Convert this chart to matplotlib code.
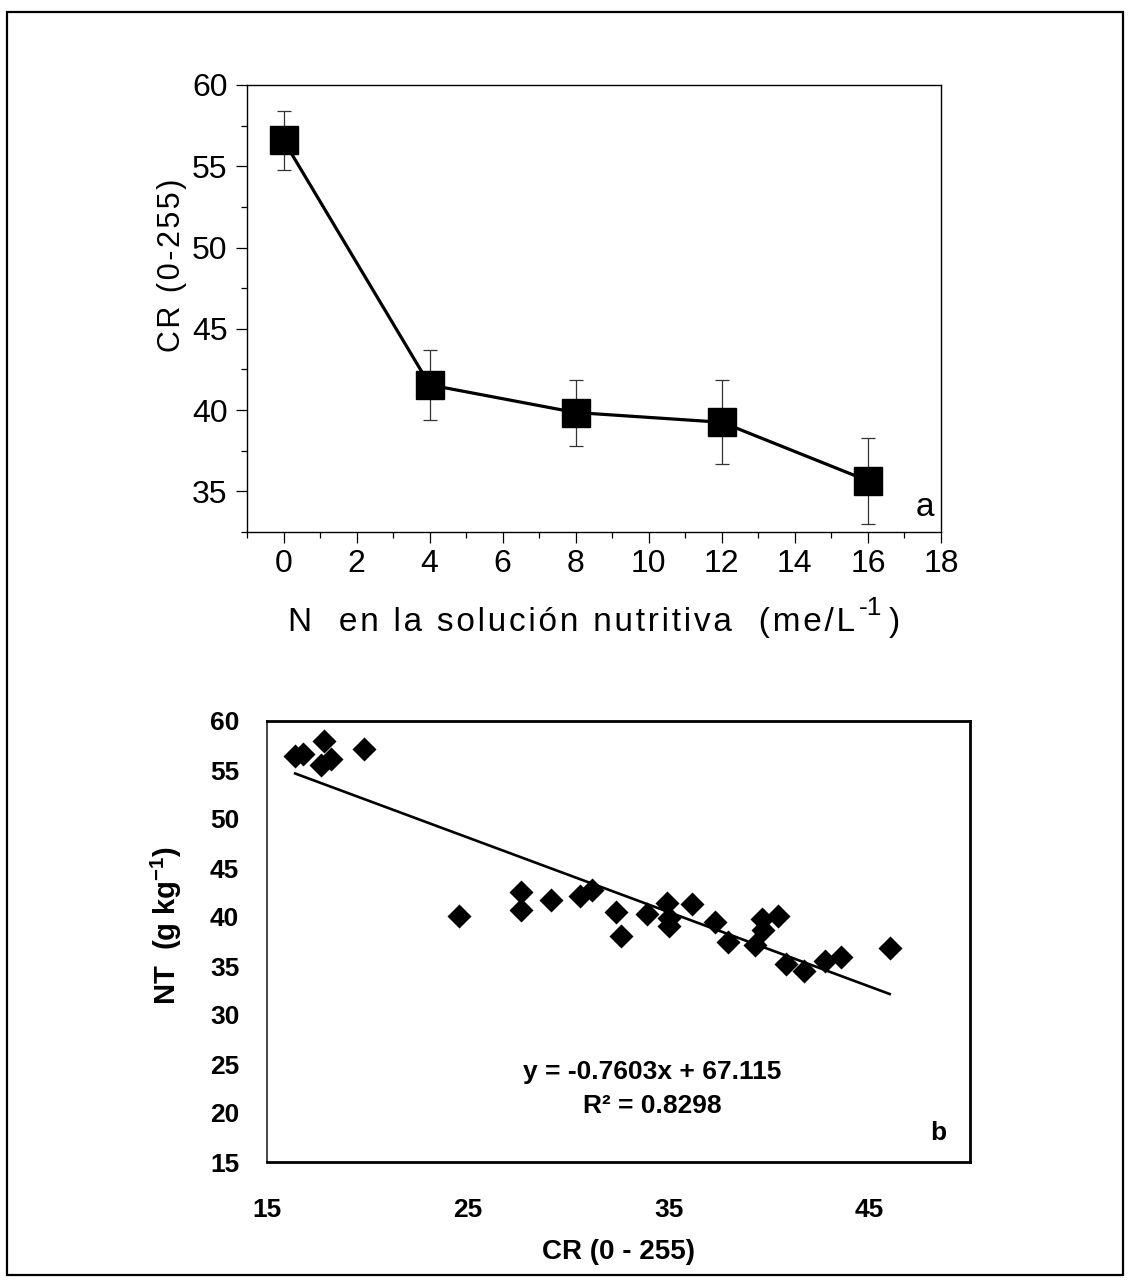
import matplotlib
matplotlib.use("Agg")
import matplotlib.pyplot as plt
import matplotlib.ticker as plticker
from matplotlib.patches import Rectangle

plt.rcParams["font.family"] = ["Liberation Sans", "DejaVu Sans"]
plt.rcParams["mathtext.default"] = "regular"

# panel a: CR vs N in nutrient solution
n_levels = [0, 4, 8, 12, 16]
cr_mean = [56.6, 41.55, 39.85, 39.25, 35.65]
cr_err = [1.83, 2.14, 2.03, 2.58, 2.63]

# panel b: NT vs CR scatter
cr_b = [16.4, 16.8, 17.85, 17.7, 18.2, 19.85,
        24.57, 27.65, 27.65, 29.12, 30.57, 31.2,
        32.38, 32.6, 33.9, 34.9, 35.0, 35.0,
        36.17, 37.3, 37.96, 39.32, 39.63, 39.7,
        40.46, 40.85, 41.75, 42.8, 43.57, 46.0]
nt_b = [56.4, 56.6, 58.0, 55.5, 56.1, 57.1,
        40.1, 42.6, 40.7, 41.7, 42.15, 42.8,
        40.5, 38.1, 40.3, 41.45, 39.9, 39.1,
        41.3, 39.45, 37.4, 37.1, 39.8, 38.65,
        40.1, 35.2, 34.5, 35.5, 35.9, 36.85]
slope = -0.7603
intercept = 67.115
b_yticks = [15, 20, 25, 30, 35, 40, 45, 50, 55, 60]
b_xticks = [15, 25, 35, 45]

W, H = 1130, 1284
fig = plt.figure(figsize=(W / 100, H / 100), dpi=100)


def fx(x):
    return x / W


def fy(y):
    return 1 - y / H


def spaced(s, gap="\u200a"):
    # the original label is letter-spaced
    return gap.join(s)


# outer frame
fig.patches.append(Rectangle((fx(7), fy(1275)), fx(1123) - fx(7), fy(12) - fy(1275),
                             transform=fig.transFigure, fill=False, lw=1.6,
                             edgecolor="black"))

# ---- panel a
ax1 = fig.add_axes([fx(247), fy(532), fx(941) - fx(247), fy(85) - fy(532)])
ax1.errorbar(n_levels, cr_mean, yerr=cr_err, color="black", lw=2.3,
             marker="s", ms=20, mfc="black", mec="black",
             ecolor="#333333", elinewidth=0.9, capsize=5, capthick=0.9, zorder=3)
ax1.set_xlim(-1, 18)
ax1.set_ylim(32.5, 60)
ax1.xaxis.set_major_locator(plticker.MultipleLocator(2))
ax1.xaxis.set_minor_locator(plticker.MultipleLocator(1))
ax1.yaxis.set_major_locator(plticker.MultipleLocator(5))
ax1.yaxis.set_minor_locator(plticker.MultipleLocator(2.5))
ax1.tick_params(which="major", direction="out", length=8, width=0.9,
                labelsize=23, pad=4)
ax1.tick_params(which="minor", direction="out", length=4.5, width=0.9)
ax1.tick_params(axis="y", which="major", pad=6)
for sp in ax1.spines.values():
    sp.set_linewidth(1.0)
ax1.text(0.99, 0.02, "a", transform=ax1.transAxes, ha="right", va="bottom",
         fontsize=24)
fig.text(fx(172), fy(265), spaced("CR (0-255)"), rotation=90, ha="center",
         va="center", fontsize=22)

# x label of panel a, built in pieces so the superscript sits high
lab_y = fy(622)
t_main = fig.text(0, lab_y, spaced("N  en la solución nutritiva  (me/L"),
                  ha="left", va="center", fontsize=24)
fig.canvas.draw()
rend = fig.canvas.get_renderer()
bb = t_main.get_window_extent(rend)
t_sup = fig.text(bb.x1 / W + fx(4), lab_y + 14 / H, "-1", ha="left",
                 va="center", fontsize=19)
bb2 = t_sup.get_window_extent(rend)
t_end = fig.text(bb2.x1 / W + fx(6), lab_y, ")", ha="left", va="center",
                 fontsize=24)
bb3 = t_end.get_window_extent(rend)
total = bb3.x1 - bb.x0
shift = fx(594) - total / 2 / W
for t in (t_main, t_sup, t_end):
    x0, y0 = t.get_position()
    t.set_position((x0 + shift, y0))

# ---- panel b
ax2 = fig.add_axes([fx(267), fy(1162), fx(970) - fx(267), fy(721) - fy(1162)])
ax2.scatter(cr_b, nt_b, marker="D", s=150, color="black", zorder=3,
            linewidths=0)
x_fit = [min(cr_b), max(cr_b)]
ax2.plot(x_fit, [slope * v + intercept for v in x_fit], color="black", lw=1.9)
ax2.set_xlim(15, 50)
ax2.set_ylim(15, 60)
ax2.set_xticks(b_xticks)
ax2.set_yticks(b_yticks)
ax2.tick_params(length=0, labelsize=19)
ax2.tick_params(axis="x", pad=26)
ax2.tick_params(axis="y", pad=20)
for lab in ax2.get_xticklabels() + ax2.get_yticklabels():
    lab.set_fontweight("bold")
for name, sp in ax2.spines.items():
    sp.set_linewidth(2.0)
    sp.set_color("black")
ax2.spines["left"].set_linewidth(1.4)
ax2.spines["left"].set_color("#444444")
fig.text(fx(652), fy(1072), "y = -0.7603x + 67.115", ha="center", va="center",
         fontsize=19, fontweight="bold")
fig.text(fx(652), fy(1106), "R² = 0.8298", ha="center", va="center",
         fontsize=19, fontweight="bold")
fig.text(fx(938), fy(1133), "b", ha="center", va="center",
         fontsize=19, fontweight="bold")
fig.text(fx(619), fy(1252), "CR (0 - 255)", ha="center", va="center",
         fontsize=20, fontweight="bold")
fig.text(fx(166), fy(925), r"NT  (g kg$^{-1}$)", rotation=90, ha="center",
         va="center", fontsize=21, fontweight="bold")

fig.savefig("out.png", dpi=100, facecolor="white")
